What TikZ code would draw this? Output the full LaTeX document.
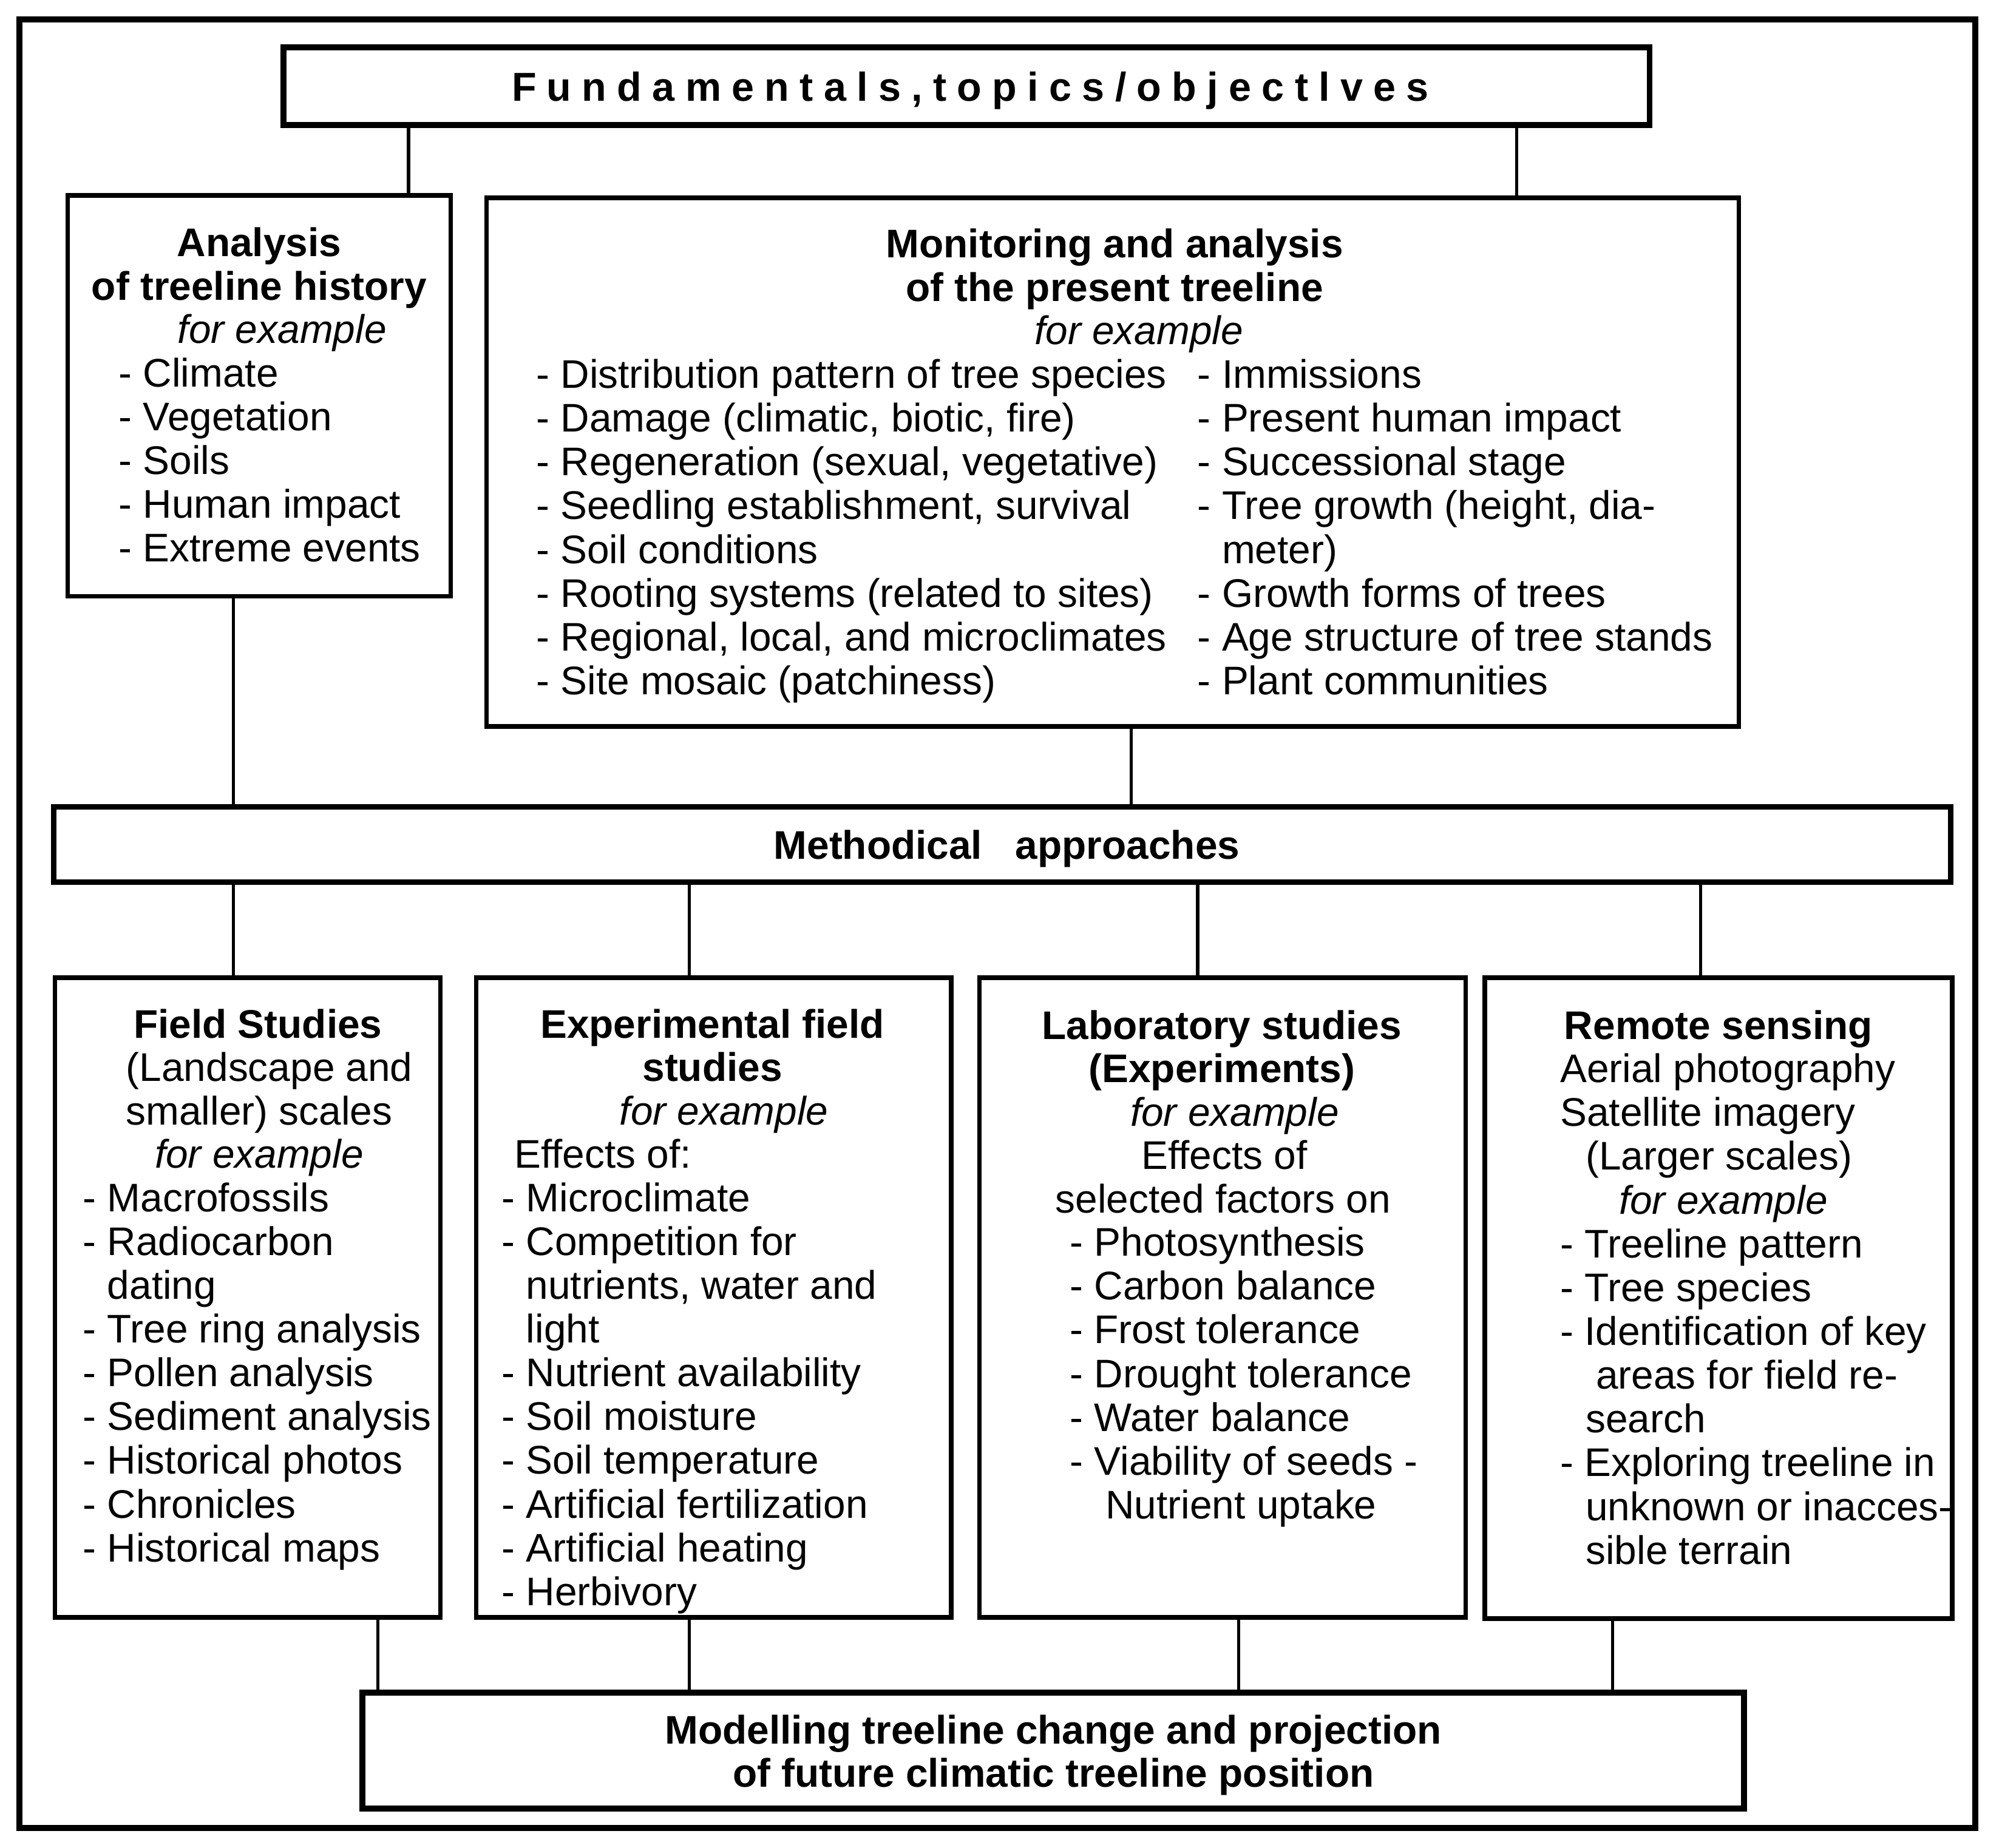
\documentclass[tikz,border=0pt]{standalone}
\usepackage{fontspec}
\setmainfont{Liberation Sans}
\usetikzlibrary{fit}
\tikzset{
 box/.style={draw, rectangle, inner sep=0pt, outer sep=0pt, line width=1pt},
 heavy/.style={box, line width=1.35pt},
 medium/.style={box, line width=1.2pt},
 conn/.style={line width=0.7pt},
 txt/.style={inner sep=0pt, outer sep=0pt, font=\fontsize{8.9}{9.76}\selectfont},
 ttl/.style={txt, font=\fontsize{8.9}{9.76}\selectfont\bfseries},
 ital/.style={txt, font=\fontsize{8.9}{9.76}\selectfont\itshape},
 hdr/.style={txt, font=\fontsize{9}{9.76}\selectfont\bfseries\addfontfeatures{LetterSpace=26}},
}
\begin{document}
\begin{tikzpicture}[x=0.1mm, y=-0.1mm]
\useasboundingbox (0,0) rectangle (1568,1447.7);
% boxes
\node[heavy, fit={(15,15) (1547,1432)}] (frame) {};
\node[heavy, fit={(222,37) (1292,98)}] (fund) {};
\node[box, fit={(53,153) (353,467)}] (ana) {};
\node[box, fit={(381,155) (1362,569)}] (mon) {};
\node[medium, fit={(42,632) (1528,691)}] (meth) {};
\node[box, fit={(43,766) (345,1267)}] (field) {};
\node[box, fit={(373,766) (745,1267)}] (exp) {};
\node[box, fit={(767,766) (1148,1267)}] (lab) {};
\node[box, fit={(1163,766) (1529,1268)}] (rem) {};
\node[heavy, fit={(284,1326) (1366,1417)}] (model) {};
% connector positions
\coordinate (k1) at (320,0);
\coordinate (k2) at (1188,0);
\coordinate (k3) at (183,0);
\coordinate (k4) at (886,0);
\coordinate (k5) at (183,0);
\coordinate (k6) at (540,0);
\coordinate (k7) at (938,0);
\coordinate (k8) at (1332,0);
\coordinate (k9) at (296,0);
\coordinate (k10) at (540,0);
\coordinate (k11) at (970,0);
\coordinate (k12) at (1263,0);
\draw[conn] (fund.south -| k1) -- (ana.north -| k1);
\draw[conn] (fund.south -| k2) -- (mon.north -| k2);
\draw[conn] (ana.south -| k3) -- (meth.north -| k3);
\draw[conn] (mon.south -| k4) -- (meth.north -| k4);
\draw[conn] (meth.south -| k5) -- (field.north -| k5);
\draw[conn] (meth.south -| k6) -- (exp.north -| k6);
\draw[conn] (meth.south -| k7) -- (lab.north -| k7);
\draw[conn] (meth.south -| k8) -- (rem.north -| k8);
\draw[conn] (field.south -| k9) -- (model.north -| k9);
\draw[conn] (exp.south -| k10) -- (model.north -| k10);
\draw[conn] (lab.south -| k11) -- (model.north -| k11);
\draw[conn] (rem.south -| k12) -- (model.north -| k12);
% header
\node[hdr, anchor=base] (fund-t) at (760,79) {Fundamentals,topics/objectlves};
% analysis
\node[ttl, anchor=base] (ana-t1) at (203,201) {Analysis};
\node[ttl, anchor=base] (ana-t2) at (203,235) {of treeline history};
\node[ital, anchor=base] (ana-t3) at (221,269) {for example};
\foreach \t [count=\i from 0] in {{- Climate},{- Vegetation},{- Soils},{- Human impact},{- Extreme events}}
  \node[txt, anchor=base west] (ana-\i) at (93,303+34.3*\i) {\t};
% monitoring
\node[ttl, anchor=base] (mon-t1) at (873,202) {Monitoring and analysis};
\node[ttl, anchor=base] (mon-t2) at (873,236) {of the present treeline};
\node[ital, anchor=base] (mon-t3) at (892,270) {for example};
\foreach \t [count=\i from 0] in {{- Distribution pattern of tree species},{- Damage (climatic, biotic, fire)},{- Regeneration (sexual, vegetative)},{- Seedling establishment, survival},{- Soil conditions},{- Rooting systems (related to sites)},{- Regional, local, and microclimates},{- Site mosaic (patchiness)}}
  \node[txt, anchor=base west] (monl-\i) at (420,304+34.3*\i) {\t};
\foreach \t [count=\i from 0] in {{- Immissions},{- Present human impact},{- Successional stage},{- Tree growth (height, dia-},{\phantom{- }meter)},{- Growth forms of trees},{- Age structure of tree stands},{- Plant communities}}
  \node[txt, anchor=base west] (monr-\i) at (938,304+34.3*\i) {\t};
% methodical
\node[ttl, anchor=base west] (meth-t) at (606,673) {Methodical\hspace{7.4pt}approaches};
% field studies
\node[ttl, anchor=base] (field-t1) at (202,813) {Field Studies};
\node[txt, anchor=base] (field-t2) at (211,847) {(Landscape and};
\node[txt, anchor=base] (field-t3) at (203,881) {smaller) scales};
\node[ital, anchor=base] (field-t4) at (203,915) {for example};
\foreach \t [count=\i from 0] in {{- Macrofossils},{- Radiocarbon},{\phantom{- }dating},{- Tree ring analysis},{- Pollen analysis},{- Sediment analysis},{- Historical photos},{- Chronicles},{- Historical maps}}
  \node[txt, anchor=base west] (field-\i) at (65,949+34.3*\i) {\t};
% experimental
\node[ttl, anchor=base] (exp-t1) at (558,813) {Experimental field};
\node[ttl, anchor=base] (exp-t2) at (558,847) {studies};
\node[ital, anchor=base] (exp-t3) at (567,881) {for example};
\node[txt, anchor=base west] (exp-t4) at (403,915) {Effects of:};
\foreach \t [count=\i from 0] in {{- Microclimate},{- Competition for},{\phantom{- }nutrients, water and},{\phantom{- }light},{- Nutrient availability},{- Soil moisture},{- Soil temperature},{- Artificial fertilization},{- Artificial heating},{- Herbivory}}
  \node[txt, anchor=base west] (exp-\i) at (393,949+34.3*\i) {\t};
% laboratory
\node[ttl, anchor=base] (lab-t1) at (957,814) {Laboratory studies};
\node[ttl, anchor=base] (lab-t2) at (957,848) {(Experiments)};
\node[ital, anchor=base] (lab-t3) at (967,882) {for example};
\node[txt, anchor=base] (lab-t4) at (959,916) {Effects of};
\node[txt, anchor=base] (lab-t5) at (958,950) {selected factors on};
\foreach \t [count=\i from 0] in {{- Photosynthesis},{- Carbon balance},{- Frost tolerance},{- Drought tolerance},{- Water balance},{- Viability of seeds -}}
  \node[txt, anchor=base west] (lab-\i) at (838,984+34.3*\i) {\t};
\node[txt, anchor=base west] (lab-n) at (866,1189.8) {Nutrient uptake};
% remote sensing
\node[ttl, anchor=base] (rem-t1) at (1346,814) {Remote sensing};
\node[txt, anchor=base west] (rem-0) at (1222,848) {Aerial photography};
\node[txt, anchor=base west] (rem-1) at (1222,882.3) {Satellite imagery};
\node[txt, anchor=base west] (rem-2) at (1242,916.6) {(Larger scales)};
\node[ital, anchor=base west] (rem-3) at (1268,950.9) {for example};
\node[txt, anchor=base west] (rem-4) at (1222,985.2) {- Treeline pattern};
\node[txt, anchor=base west] (rem-5) at (1222,1019.5) {- Tree species};
\node[txt, anchor=base west] (rem-6) at (1222,1053.8) {- Identification of key};
\node[txt, anchor=base west] (rem-7) at (1250,1088.1) {areas for field re-};
\node[txt, anchor=base west] (rem-8) at (1242,1122.4) {search};
\node[txt, anchor=base west] (rem-9) at (1222,1156.7) {- Exploring treeline in};
\node[txt, anchor=base west] (rem-10) at (1242,1191) {unknown or inacces-};
\node[txt, anchor=base west] (rem-11) at (1242,1225.3) {sible terrain};
% modelling
\node[ttl, anchor=base] (model-t1) at (825,1366) {Modelling treeline change and projection};
\node[ttl, anchor=base] (model-t2) at (825,1400) {of future climatic treeline position};
\end{tikzpicture}
\end{document}
